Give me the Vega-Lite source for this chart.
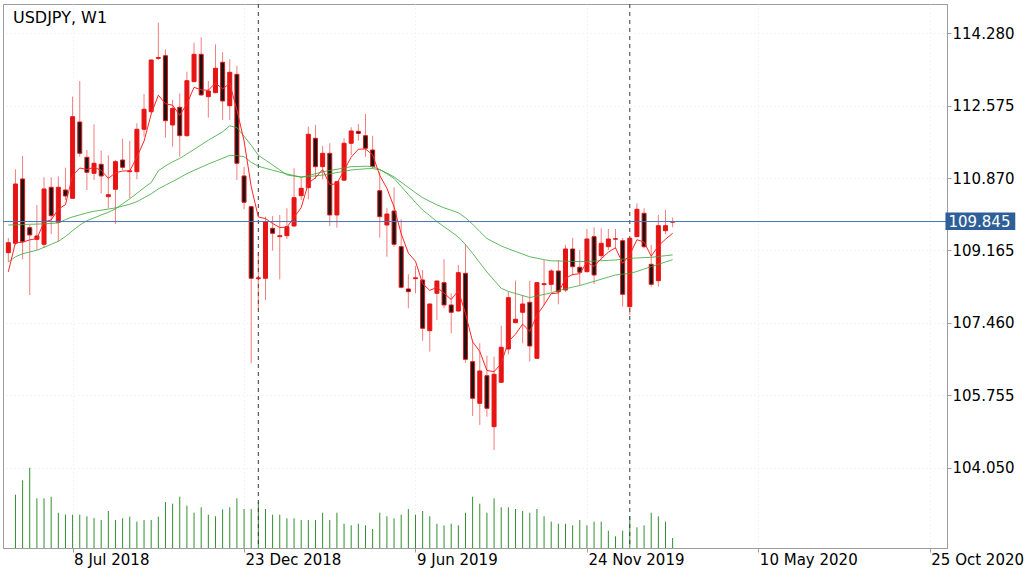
{
  "$schema": "https://vega.github.io/schema/vega-lite/v6.json",
  "description": "USDJPY weekly candles with a fast EMA, two slower moving averages and tick volume",
  "width": 944,
  "height": 544,
  "autosize": "none",
  "padding": {"left": 3, "top": 4, "right": 77, "bottom": 29},
  "background": "#ffffff",
  "config": {
    "view": {"stroke": "#9c9c9c", "strokeWidth": 1},
    "font": "DejaVu Sans"
  },
  "datasets": {
    "candles": [
      {"d": "2018-05-06", "o": 109.112, "h": 109.458, "l": 108.893, "c": 109.347, "v": null, "e": 108.660, "f": 108.893, "s": 109.764},
      {"d": "2018-05-13", "o": 109.333, "h": 111.076, "l": 109.293, "c": 110.730, "v": 53300, "e": 109.350, "f": 109.015, "s": 109.769},
      {"d": "2018-05-20", "o": 110.848, "h": 111.390, "l": 108.956, "c": 109.371, "v": 67700, "e": 109.357, "f": 109.086, "s": 109.774},
      {"d": "2018-05-27", "o": 109.701, "h": 109.764, "l": 108.115, "c": 109.529, "v": 80300, "e": 109.414, "f": 109.128, "s": 109.781},
      {"d": "2018-06-03", "o": 109.427, "h": 110.235, "l": 109.175, "c": 109.505, "v": 49700, "e": 109.444, "f": 109.168, "s": 109.785},
      {"d": "2018-06-10", "o": 109.310, "h": 110.888, "l": 109.222, "c": 110.612, "v": 49700, "e": 109.833, "f": 109.239, "s": 109.792},
      {"d": "2018-06-17", "o": 110.652, "h": 110.888, "l": 109.552, "c": 109.983, "v": 51300, "e": 109.883, "f": 109.310, "s": 109.800},
      {"d": "2018-06-24", "o": 109.828, "h": 110.911, "l": 109.371, "c": 110.652, "v": 35300, "e": 110.139, "f": 109.380, "s": 109.814},
      {"d": "2018-07-01", "o": 110.589, "h": 111.114, "l": 110.353, "c": 110.447, "v": 33300, "e": 110.242, "f": 109.491, "s": 109.891},
      {"d": "2018-07-08", "o": 110.393, "h": 112.787, "l": 110.377, "c": 112.315, "v": 33300, "e": 110.933, "f": 109.630, "s": 109.955},
      {"d": "2018-07-15", "o": 112.191, "h": 113.156, "l": 111.373, "c": 111.453, "v": 33300, "e": 111.106, "f": 109.762, "s": 110.002},
      {"d": "2018-07-22", "o": 111.359, "h": 111.531, "l": 110.589, "c": 111.006, "v": 31700, "e": 111.073, "f": 109.866, "s": 110.049},
      {"d": "2018-07-29", "o": 110.982, "h": 112.136, "l": 110.824, "c": 111.218, "v": 30000, "e": 111.121, "f": 109.931, "s": 110.087},
      {"d": "2018-08-05", "o": 111.194, "h": 111.514, "l": 110.511, "c": 110.919, "v": 28000, "e": 111.054, "f": 110.000, "s": 110.113},
      {"d": "2018-08-12", "o": 110.431, "h": 111.406, "l": 110.158, "c": 110.478, "v": 37000, "e": 110.862, "f": 110.063, "s": 110.139},
      {"d": "2018-08-19", "o": 110.605, "h": 111.295, "l": 109.788, "c": 111.255, "v": 28000, "e": 110.993, "f": 110.143, "s": 110.167},
      {"d": "2018-08-26", "o": 111.295, "h": 111.797, "l": 111.060, "c": 111.123, "v": 29700, "e": 111.036, "f": 110.264, "s": 110.209},
      {"d": "2018-09-02", "o": 111.020, "h": 111.743, "l": 110.393, "c": 111.040, "v": 31300, "e": 111.037, "f": 110.381, "s": 110.252},
      {"d": "2018-09-09", "o": 111.020, "h": 112.160, "l": 110.841, "c": 112.019, "v": 26300, "e": 111.364, "f": 110.509, "s": 110.313},
      {"d": "2018-09-16", "o": 112.019, "h": 112.850, "l": 111.844, "c": 112.490, "v": 28000, "e": 111.739, "f": 110.641, "s": 110.405},
      {"d": "2018-09-23", "o": 112.433, "h": 113.660, "l": 112.403, "c": 113.651, "v": 28000, "e": 112.376, "f": 110.765, "s": 110.497},
      {"d": "2018-09-30", "o": 113.690, "h": 114.530, "l": 113.651, "c": 113.710, "v": 31300, "e": 112.821, "f": 111.041, "s": 110.615},
      {"d": "2018-10-07", "o": 113.752, "h": 113.903, "l": 111.821, "c": 112.221, "v": 46000, "e": 112.621, "f": 111.156, "s": 110.702},
      {"d": "2018-10-14", "o": 112.120, "h": 112.709, "l": 111.609, "c": 112.513, "v": 44300, "e": 112.585, "f": 111.253, "s": 110.789},
      {"d": "2018-10-21", "o": 112.537, "h": 112.867, "l": 111.373, "c": 111.868, "v": 51300, "e": 112.346, "f": 111.331, "s": 110.878},
      {"d": "2018-10-28", "o": 111.868, "h": 113.375, "l": 111.844, "c": 113.163, "v": 42300, "e": 112.618, "f": 111.437, "s": 110.975},
      {"d": "2018-11-04", "o": 113.140, "h": 114.059, "l": 113.130, "c": 113.785, "v": 35300, "e": 113.007, "f": 111.545, "s": 111.050},
      {"d": "2018-11-11", "o": 113.785, "h": 114.186, "l": 112.810, "c": 112.827, "v": 40700, "e": 112.947, "f": 111.653, "s": 111.126},
      {"d": "2018-11-18", "o": 112.787, "h": 113.156, "l": 112.292, "c": 112.921, "v": 33300, "e": 112.938, "f": 111.762, "s": 111.201},
      {"d": "2018-11-25", "o": 112.881, "h": 114.021, "l": 112.867, "c": 113.456, "v": 31700, "e": 113.111, "f": 111.861, "s": 111.267},
      {"d": "2018-12-02", "o": 113.597, "h": 113.833, "l": 112.238, "c": 112.685, "v": 38700, "e": 112.969, "f": 111.960, "s": 111.335},
      {"d": "2018-12-09", "o": 112.575, "h": 113.668, "l": 112.238, "c": 113.361, "v": 40700, "e": 113.100, "f": 112.101, "s": 111.404},
      {"d": "2018-12-16", "o": 113.314, "h": 113.510, "l": 110.824, "c": 111.218, "v": 49700, "e": 112.473, "f": 112.056, "s": 111.401},
      {"d": "2018-12-23", "o": 110.919, "h": 111.138, "l": 110.141, "c": 110.299, "v": 39000, "e": 111.748, "f": 111.856, "s": 111.373},
      {"d": "2018-12-30", "o": 110.195, "h": 110.210, "l": 106.506, "c": 108.509, "v": 39000, "e": 110.668, "f": 111.644, "s": 111.241},
      {"d": "2019-01-06", "o": 108.500, "h": 109.105, "l": 107.762, "c": 108.520, "v": 46000, "e": 109.952, "f": 111.406, "s": 111.149},
      {"d": "2019-01-13", "o": 108.509, "h": 109.960, "l": 107.997, "c": 109.842, "v": 39000, "e": 109.915, "f": 111.293, "s": 111.100},
      {"d": "2019-01-20", "o": 109.686, "h": 109.976, "l": 109.159, "c": 109.569, "v": 33300, "e": 109.800, "f": 111.178, "s": 111.055},
      {"d": "2019-01-27", "o": 109.489, "h": 110.000, "l": 108.485, "c": 109.512, "v": 33300, "e": 109.704, "f": 111.060, "s": 111.010},
      {"d": "2019-02-03", "o": 109.512, "h": 110.158, "l": 109.434, "c": 109.724, "v": 29700, "e": 109.711, "f": 110.944, "s": 110.966},
      {"d": "2019-02-10", "o": 109.741, "h": 111.100, "l": 109.720, "c": 110.407, "v": 29700, "e": 109.943, "f": 110.916, "s": 110.928},
      {"d": "2019-02-17", "o": 110.454, "h": 110.902, "l": 110.353, "c": 110.629, "v": 28000, "e": 110.172, "f": 110.890, "s": 110.893},
      {"d": "2019-02-24", "o": 110.643, "h": 112.080, "l": 110.370, "c": 111.901, "v": 28000, "e": 110.748, "f": 110.928, "s": 110.904},
      {"d": "2019-03-03", "o": 111.807, "h": 112.120, "l": 110.848, "c": 111.138, "v": 28000, "e": 110.878, "f": 110.973, "s": 110.921},
      {"d": "2019-03-10", "o": 111.138, "h": 111.625, "l": 110.841, "c": 111.453, "v": 35300, "e": 111.070, "f": 111.015, "s": 110.940},
      {"d": "2019-03-17", "o": 111.453, "h": 111.689, "l": 109.741, "c": 110.000, "v": 28000, "e": 110.713, "f": 111.050, "s": 110.970},
      {"d": "2019-03-24", "o": 110.000, "h": 110.800, "l": 109.701, "c": 110.784, "v": 35300, "e": 110.737, "f": 111.076, "s": 110.999},
      {"d": "2019-03-31", "o": 110.820, "h": 111.807, "l": 110.800, "c": 111.689, "v": 24300, "e": 111.054, "f": 111.107, "s": 111.029},
      {"d": "2019-04-07", "o": 111.689, "h": 112.066, "l": 111.413, "c": 111.979, "v": 22700, "e": 111.362, "f": 111.138, "s": 111.060},
      {"d": "2019-04-14", "o": 111.970, "h": 112.143, "l": 111.750, "c": 111.920, "v": 24300, "e": 111.548, "f": 111.142, "s": 111.074},
      {"d": "2019-04-21", "o": 111.868, "h": 112.379, "l": 111.373, "c": 111.571, "v": 22700, "e": 111.556, "f": 111.149, "s": 111.088},
      {"d": "2019-04-28", "o": 111.531, "h": 111.868, "l": 111.100, "c": 111.138, "v": 19000, "e": 111.417, "f": 111.140, "s": 111.093},
      {"d": "2019-05-05", "o": 110.572, "h": 111.020, "l": 109.465, "c": 109.960, "v": 35300, "e": 110.931, "f": 111.072, "s": 111.065},
      {"d": "2019-05-12", "o": 109.764, "h": 110.165, "l": 109.017, "c": 110.023, "v": 31700, "e": 110.628, "f": 110.970, "s": 110.987},
      {"d": "2019-05-19", "o": 110.094, "h": 110.652, "l": 109.253, "c": 109.310, "v": 29700, "e": 110.189, "f": 110.860, "s": 110.897},
      {"d": "2019-05-26", "o": 109.253, "h": 109.899, "l": 108.273, "c": 108.297, "v": 33300, "e": 109.558, "f": 110.671, "s": 110.772},
      {"d": "2019-06-02", "o": 108.257, "h": 108.603, "l": 107.802, "c": 108.193, "v": 39000, "e": 109.103, "f": 110.483, "s": 110.648},
      {"d": "2019-06-09", "o": 108.500, "h": 108.798, "l": 108.155, "c": 108.520, "v": 33300, "e": 108.909, "f": 110.294, "s": 110.523},
      {"d": "2019-06-16", "o": 108.469, "h": 108.704, "l": 107.039, "c": 107.331, "v": 37000, "e": 108.383, "f": 110.118, "s": 110.407},
      {"d": "2019-06-23", "o": 107.274, "h": 107.910, "l": 106.780, "c": 107.903, "v": 31700, "e": 108.223, "f": 109.983, "s": 110.323},
      {"d": "2019-06-30", "o": 108.155, "h": 108.450, "l": 107.526, "c": 108.445, "v": 24300, "e": 108.297, "f": 109.844, "s": 110.238},
      {"d": "2019-07-07", "o": 108.405, "h": 108.956, "l": 107.802, "c": 107.880, "v": 22700, "e": 108.158, "f": 109.724, "s": 110.169},
      {"d": "2019-07-14", "o": 107.880, "h": 108.155, "l": 107.213, "c": 107.708, "v": 24300, "e": 108.008, "f": 109.604, "s": 110.111},
      {"d": "2019-07-21", "o": 107.738, "h": 108.822, "l": 107.720, "c": 108.640, "v": 22700, "e": 108.219, "f": 109.482, "s": 110.052},
      {"d": "2019-07-28", "o": 108.626, "h": 109.310, "l": 106.520, "c": 106.600, "v": 35300, "e": 107.679, "f": 109.302, "s": 109.936},
      {"d": "2019-08-04", "o": 106.544, "h": 107.055, "l": 105.265, "c": 105.682, "v": 51300, "e": 107.013, "f": 109.095, "s": 109.781},
      {"d": "2019-08-11", "o": 105.564, "h": 106.977, "l": 105.053, "c": 106.325, "v": 44300, "e": 106.784, "f": 108.874, "s": 109.611},
      {"d": "2019-08-18", "o": 106.214, "h": 106.685, "l": 105.248, "c": 105.446, "v": 35300, "e": 106.338, "f": 108.657, "s": 109.446},
      {"d": "2019-08-25", "o": 105.013, "h": 106.662, "l": 104.464, "c": 106.247, "v": 49700, "e": 106.308, "f": 108.462, "s": 109.357},
      {"d": "2019-09-01", "o": 106.059, "h": 107.392, "l": 106.040, "c": 106.883, "v": 40700, "e": 106.500, "f": 108.273, "s": 109.270},
      {"d": "2019-09-08", "o": 106.843, "h": 108.193, "l": 106.718, "c": 108.052, "v": 40700, "e": 107.017, "f": 108.200, "s": 109.204},
      {"d": "2019-09-15", "o": 107.463, "h": 108.452, "l": 107.450, "c": 107.543, "v": 39000, "e": 107.192, "f": 108.150, "s": 109.140},
      {"d": "2019-09-22", "o": 107.708, "h": 108.115, "l": 106.977, "c": 107.903, "v": 37000, "e": 107.429, "f": 108.101, "s": 109.079},
      {"d": "2019-09-29", "o": 107.943, "h": 108.452, "l": 106.544, "c": 106.914, "v": 35300, "e": 107.257, "f": 108.054, "s": 109.015},
      {"d": "2019-10-06", "o": 106.624, "h": 108.420, "l": 106.610, "c": 108.405, "v": 39000, "e": 107.640, "f": 108.092, "s": 108.982},
      {"d": "2019-10-13", "o": 108.380, "h": 108.940, "l": 107.880, "c": 108.360, "v": 31700, "e": 107.880, "f": 108.129, "s": 108.947},
      {"d": "2019-10-20", "o": 108.367, "h": 108.728, "l": 108.193, "c": 108.681, "v": 26300, "e": 108.147, "f": 108.167, "s": 108.921},
      {"d": "2019-10-27", "o": 108.681, "h": 108.940, "l": 107.896, "c": 108.193, "v": 24300, "e": 108.162, "f": 108.219, "s": 108.916},
      {"d": "2019-11-03", "o": 108.233, "h": 109.293, "l": 108.190, "c": 109.199, "v": 24300, "e": 108.508, "f": 108.261, "s": 108.911},
      {"d": "2019-11-10", "o": 109.199, "h": 109.459, "l": 108.570, "c": 108.782, "v": 22700, "e": 108.599, "f": 108.301, "s": 108.907},
      {"d": "2019-11-17", "o": 108.768, "h": 109.175, "l": 108.351, "c": 108.650, "v": 28000, "e": 108.616, "f": 108.339, "s": 108.902},
      {"d": "2019-11-24", "o": 108.664, "h": 109.670, "l": 108.650, "c": 109.434, "v": 22700, "e": 108.889, "f": 108.386, "s": 108.907},
      {"d": "2019-12-01", "o": 109.489, "h": 109.710, "l": 108.374, "c": 108.586, "v": 26300, "e": 108.788, "f": 108.436, "s": 108.914},
      {"d": "2019-12-08", "o": 109.041, "h": 109.686, "l": 108.940, "c": 109.333, "v": 26300, "e": 108.970, "f": 108.487, "s": 108.923},
      {"d": "2019-12-15", "o": 109.253, "h": 109.670, "l": 109.175, "c": 109.434, "v": 17300, "e": 109.125, "f": 108.537, "s": 108.930},
      {"d": "2019-12-22", "o": 109.440, "h": 109.670, "l": 109.199, "c": 109.430, "v": 11700, "e": 109.227, "f": 108.586, "s": 108.940},
      {"d": "2019-12-29", "o": 109.394, "h": 109.459, "l": 107.840, "c": 108.132, "v": 17300, "e": 108.862, "f": 108.605, "s": 108.959},
      {"d": "2020-01-05", "o": 107.840, "h": 109.460, "l": 107.644, "c": 109.451, "v": 31700, "e": 109.058, "f": 108.624, "s": 108.980},
      {"d": "2020-01-12", "o": 109.489, "h": 110.275, "l": 109.480, "c": 110.134, "v": 20700, "e": 109.417, "f": 108.669, "s": 108.987},
      {"d": "2020-01-19", "o": 110.040, "h": 110.158, "l": 109.215, "c": 109.253, "v": 22700, "e": 109.362, "f": 108.728, "s": 108.996},
      {"d": "2020-01-26", "o": 108.838, "h": 109.293, "l": 108.311, "c": 108.367, "v": 35300, "e": 109.030, "f": 108.782, "s": 109.003},
      {"d": "2020-02-02", "o": 108.452, "h": 110.000, "l": 108.311, "c": 109.748, "v": 31700, "e": 109.269, "f": 108.838, "s": 109.022},
      {"d": "2020-02-09", "o": 109.630, "h": 110.118, "l": 109.545, "c": 109.748, "v": 26300, "e": 109.429, "f": 108.893, "s": 109.041},
      {"d": "2020-02-16", "o": 109.830, "h": 109.936, "l": 109.710, "c": 109.845, "v": 10000, "e": 109.568, "f": 108.947, "s": 109.060}
    ],
    "seps": [
      {"d": "2019-01-06"},
      {"d": "2020-01-05"}
    ],
    "last": [
      {"last": 109.845, "name": "USDJPY, W1"}
    ]
  },
  "data": {"name": "candles"},
  "layer": [
    {
      "mark": {"type": "rule", "color": "#2f8f2f", "strokeWidth": 1},
      "encoding": {
        "x": {
          "field": "d",
          "type": "temporal",
          "title": null,
          "scale": {
            "type": "utc",
            "nice": false,
            "domain": [
              {"year": 2018, "month": 5, "date": 5, "hours": 16, "minutes": 30, "utc": true},
              {"year": 2020, "month": 11, "date": 5, "hours": 22, "minutes": 45, "utc": true}
            ]
          },
          "axis": {
            "orient": "bottom",
            "values": [
              {"year": 2018, "month": 7, "date": 8, "utc": true},
              {"year": 2018, "month": 12, "date": 23, "utc": true},
              {"year": 2019, "month": 6, "date": 9, "utc": true},
              {"year": 2019, "month": 11, "date": 24, "utc": true},
              {"year": 2020, "month": 5, "date": 10, "utc": true},
              {"year": 2020, "month": 10, "date": 25, "utc": true}
            ],
            "format": "%-d %b %Y",
            "labelAlign": "left",
            "labelOffset": 1,
            "labelFont": "DejaVu Sans",
            "labelFontSize": 15,
            "labelColor": "#000000",
            "labelPadding": 0,
            "labelFlush": false,
            "labelOverlap": false,
            "labelBound": false,
            "tickSize": 4,
            "tickColor": "#9c9c9c",
            "domainColor": "#9c9c9c",
            "grid": true,
            "gridColor": "#e8e8e8",
            "gridDash": [1, 3]
          }
        },
        "y": {
          "field": "v",
          "type": "quantitative",
          "title": null,
          "scale": {"domain": [0, 544000], "nice": false},
          "axis": null
        },
        "y2": {"datum": 0}
      }
    },
    {
      "layer": [
        {
          "data": {"name": "seps"},
          "mark": {"type": "rule", "color": "#3a3a3a", "strokeWidth": 1, "strokeDash": [4, 4]},
          "encoding": {
            "x": {"field": "d", "type": "temporal", "title": null, "scale": {"type": "utc"}}
          }
        },
        {
          "mark": {"type": "rule", "color": "#e61414", "strokeWidth": 1, "opacity": 0.55},
          "encoding": {
            "x": {"field": "d", "type": "temporal", "title": null, "scale": {"type": "utc"}},
            "y": {
              "field": "l",
              "type": "quantitative",
              "title": null,
              "scale": {"domain": [102.155, 114.97], "nice": false, "zero": false},
              "axis": {
                "orient": "right",
                "values": [104.05, 105.755, 107.46, 109.165, 110.87, 112.575, 114.28],
                "format": ".3f",
                "labelFont": "DejaVu Sans",
                "labelFontSize": 15,
                "labelColor": "#000000",
                "labelAlign": "left",
                "labelBaseline": "middle",
                "labelPadding": 1,
                "tickSize": 4,
                "tickColor": "#9c9c9c",
                "domainColor": "#9c9c9c",
                "grid": true,
                "gridColor": "#e8e8e8",
                "gridDash": [1, 3]
              }
            },
            "y2": {"field": "h"}
          }
        },
        {
          "mark": {"type": "bar", "size": 4, "stroke": "#e61414", "strokeWidth": 1},
          "encoding": {
            "x": {"field": "d", "type": "temporal", "title": null, "scale": {"type": "utc"}},
            "y": {"field": "o", "type": "quantitative", "title": null},
            "y2": {"field": "c"},
            "fill": {
              "condition": {"test": "datum.c > datum.o", "value": "#e61414"},
              "value": "#161616"
            }
          }
        },
        {
          "mark": {"type": "line", "color": "#3aa63a", "strokeWidth": 1, "opacity": 0.8},
          "encoding": {
            "x": {"field": "d", "type": "temporal", "title": null, "scale": {"type": "utc"}},
            "y": {"field": "s", "type": "quantitative", "title": null}
          }
        },
        {
          "mark": {"type": "line", "color": "#3aa63a", "strokeWidth": 1, "opacity": 0.8},
          "encoding": {
            "x": {"field": "d", "type": "temporal", "title": null, "scale": {"type": "utc"}},
            "y": {"field": "f", "type": "quantitative", "title": null}
          }
        },
        {
          "mark": {"type": "line", "color": "#ff2424", "strokeWidth": 1},
          "encoding": {
            "x": {"field": "d", "type": "temporal", "title": null, "scale": {"type": "utc"}},
            "y": {"field": "e", "type": "quantitative", "title": null}
          }
        },
        {
          "data": {"name": "last"},
          "mark": {"type": "rule", "color": "#4575b4", "strokeWidth": 1},
          "encoding": {
            "y": {"field": "last", "type": "quantitative", "title": null}
          }
        },
        {
          "data": {"name": "last"},
          "mark": {"type": "rect", "color": "#2e5f98"},
          "encoding": {
            "x": {"datum": {"year": 2020, "month": 11, "date": 9, "hours": 8, "utc": true}, "type": "temporal", "scale": {"type": "utc"}},
            "x2": {"datum": {"year": 2021, "month": 1, "date": 16, "hours": 18, "utc": true}},
            "y": {"datum": 110.06, "type": "quantitative"},
            "y2": {"datum": 109.645}
          }
        },
        {
          "data": {"name": "last"},
          "mark": {"type": "text", "color": "#ffffff", "font": "DejaVu Sans", "fontSize": 15, "align": "left", "baseline": "middle"},
          "encoding": {
            "x": {"datum": {"year": 2020, "month": 11, "date": 12, "hours": 6, "utc": true}, "type": "temporal", "scale": {"type": "utc"}},
            "y": {"field": "last", "type": "quantitative", "title": null},
            "text": {"field": "last", "type": "quantitative", "format": ".3f"}
          }
        },
        {
          "data": {"name": "last"},
          "mark": {"type": "text", "color": "#000000", "font": "DejaVu Sans", "fontSize": 16, "align": "left", "baseline": "alphabetic"},
          "encoding": {
            "x": {"datum": {"year": 2018, "month": 5, "date": 10, "hours": 13, "utc": true}, "type": "temporal", "scale": {"type": "utc"}},
            "y": {"datum": 114.515, "type": "quantitative"},
            "text": {"field": "name", "type": "nominal"}
          }
        }
      ]
    }
  ],
  "resolve": {"scale": {"y": "independent"}}
}
